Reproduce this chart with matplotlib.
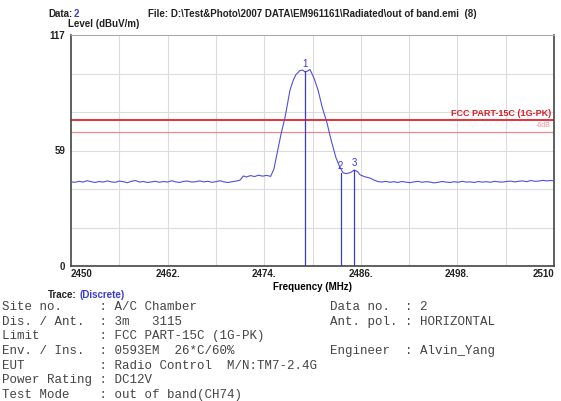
import matplotlib
matplotlib.use("Agg")
import matplotlib.pyplot as plt

# Trace (MHz, dBuV/m)
freq = [2450.0, 2450.5, 2451.0, 2451.5, 2452.0, 2452.5, 2453.0, 2453.5, 2454.0, 2454.5,
        2455.0, 2455.5, 2456.0, 2456.5, 2457.0, 2457.5, 2458.0, 2458.5, 2459.0, 2459.5,
        2460.0, 2460.5, 2461.0, 2461.5, 2462.0, 2462.5, 2463.0, 2463.5, 2464.0, 2464.5,
        2465.0, 2465.5, 2466.0, 2466.5, 2467.0, 2467.5, 2468.0, 2468.5, 2469.0, 2469.5,
        2470.0, 2470.5, 2471.0, 2471.4, 2471.8, 2472.3, 2472.8, 2473.3, 2473.8, 2474.3,
        2474.8, 2475.2, 2475.7, 2476.1, 2476.6, 2477.2, 2477.6, 2477.95, 2478.45, 2478.8,
        2479.1, 2479.4, 2479.7, 2480.2, 2480.7, 2481.2, 2481.8, 2482.3, 2482.9, 2483.4,
        2483.8, 2484.2, 2484.7, 2485.2, 2485.6, 2485.9, 2486.5, 2487.1, 2487.6, 2488.1,
        2488.6, 2489.1, 2489.6, 2490.1, 2490.6, 2491.1, 2491.6, 2492.1, 2492.6, 2493.1,
        2493.6, 2494.1, 2494.6, 2495.1, 2495.6, 2496.1, 2496.6, 2497.1, 2497.6, 2498.1,
        2498.6, 2499.1, 2499.6, 2500.1, 2500.6, 2501.1, 2501.6, 2502.1, 2502.6, 2503.1,
        2503.6, 2504.1, 2504.6, 2505.1, 2505.6, 2506.1, 2506.6, 2507.1, 2507.6, 2508.1,
        2508.6, 2509.1, 2509.6, 2510.0]
level = [42.6, 42.4, 42.9, 42.5, 43.2, 42.7, 42.3, 42.8, 42.5, 43.1,
         42.6, 42.4, 43.0, 42.7, 42.2, 42.9, 43.3, 42.5, 42.8, 42.3,
         42.6, 42.9, 42.4, 42.8, 42.5, 43.2, 42.6, 42.3, 42.9, 43.0,
         42.5, 42.7, 43.1, 42.6, 42.9, 42.4, 42.7, 43.2, 42.6, 42.3,
         42.7, 43.0, 43.5, 45.6, 45.1, 45.8, 45.3, 46.0, 45.5, 45.9,
         45.4, 49.0, 59.0, 67.0, 75.5, 89.0, 94.0, 97.0, 99.0, 99.2,
         98.2, 98.8, 99.5, 95.0, 89.0, 80.5, 72.5, 64.0, 55.0, 50.0,
         47.2, 46.8, 47.3, 48.6, 47.8, 46.2, 45.2, 44.6, 43.6, 42.8,
         42.5, 42.9, 42.4, 42.7, 42.3, 42.8, 42.5, 42.2, 42.6, 42.9,
         42.4, 42.7, 42.5, 42.1, 42.4, 42.8, 42.5, 42.3, 42.7, 42.4,
         42.9, 42.5, 42.6, 42.3, 42.8, 42.5, 42.7, 42.4, 42.9, 42.6,
         42.5, 42.8, 43.0, 42.6, 42.9, 43.1, 42.7, 43.3, 42.9, 43.0,
         43.4, 43.1, 43.3, 43.2]

marker_freq = [2479.1, 2483.5, 2485.2]
marker_level = [98.8, 47.0, 48.6]
marker_names = ["1", "2", "3"]

limit_level = 74.0
margin_level = 68.0
xticks = [2450, 2462, 2474, 2486, 2498, 2510]
xticklabels = ["2450", "2462.", "2474.", "2486.", "2498.", "2510"]
yticks = [0, 59, 117]

info_left = [("Site no.", "A/C Chamber"),
             ("Dis. / Ant.", "3m   3115"),
             ("Limit", "FCC PART-15C (1G-PK)"),
             ("Env. / Ins.", "0593EM  26*C/60%"),
             ("EUT", "Radio Control  M/N:TM7-2.4G"),
             ("Power Rating", "DC12V"),
             ("Test Mode", "out of band(CH74)")]
info_right = {0: ("Data no.", "2"), 1: ("Ant. pol.", "HORIZONTAL"), 3: ("Engineer", "Alvin_Yang")}

W, H = 561, 401
fig = plt.figure(figsize=(W / 100, H / 100), dpi=100, facecolor="white")


def px(x, y):
    return x / W, 1 - y / H


SANS = "Liberation Sans"
BLUE = "#3a3ad8"
FS = 7

ax = fig.add_axes([71 / W, 1 - 266 / H, (554 - 71) / W, (266 - 35) / H])
ax.set_xlim(2450, 2510)
ax.set_ylim(0, 117)

# grid: 10 vertical, 6 horizontal divisions
for i in range(1, 10):
    ax.axvline(2450 + 6 * i, color="#dcdcdc", lw=0.8, zorder=0)
for i in range(1, 6):
    ax.axhline(117 / 6 * i, color="#dcdcdc", lw=0.8, zorder=0)

ax.set_xticks(xticks)
ax.set_xticklabels(xticklabels)
ax.set_yticks(yticks)
ax.set_yticklabels([str(v) for v in yticks])
ax.tick_params(length=0, labelsize=FS)
ax.tick_params(axis="y", pad=4)
ax.tick_params(axis="x", pad=2)
for lab in ax.get_xticklabels() + ax.get_yticklabels():
    lab.set_fontweight("bold")
    lab.set_family(SANS)
    lab.set_color("#222222")
xl = ax.get_xticklabels()
xl[0].set_ha("left")
xl[-1].set_ha("right")

for s in ["left", "bottom", "right"]:
    ax.spines[s].set_color("#444444")
    ax.spines[s].set_linewidth(1.2)
ax.spines["top"].set_color("#aaaaaa")
ax.spines["top"].set_linewidth(0.8)

# limit lines
ax.axhline(limit_level, color="#e8303a", lw=1.4, zorder=2)
ax.axhline(margin_level, color="#f08890", lw=0.9, zorder=2)
ax.text(2509.6, limit_level + 1.2, "FCC PART-15C (1G-PK)", color="#d81e28", fontsize=6.5,
        fontweight="bold", family=SANS, ha="right", va="bottom")
ax.text(2509.6, limit_level - 1.2, "-6dB", color="#f09090", fontsize=5, ha="right", va="top",
        family=SANS)

# trace
ax.plot(freq, level, color="#5050dc", lw=0.8, zorder=3)

# markers
for f, l, n in zip(marker_freq, marker_level, marker_names):
    ax.plot([f, f], [0, l], color=BLUE, lw=0.9, zorder=3)
    ax.text(f, l + 1.0, n, color=BLUE, fontsize=7, ha="center", va="bottom", family=SANS)

ax.set_xlabel("Frequency (MHz)", fontsize=FS, fontweight="bold", family=SANS, labelpad=2)

# header texts
fig.text(*px(48, 14), "Data:", fontsize=FS, fontweight="bold", family=SANS,
         va="center", color="#222222")
fig.text(*px(74, 14), "2", fontsize=FS, fontweight="bold", color=BLUE,
         family=SANS, va="center")
fig.text(*px(148, 14), "File: D:\\Test&Photo\\2007 DATA\\EM961161\\Radiated\\out of band.emi  (8)",
         fontsize=FS, fontweight="bold", family=SANS, va="center", color="#222222")
fig.text(*px(68, 24), "Level (dBuV/m)", fontsize=FS, fontweight="bold",
         family=SANS, va="center", color="#222222")
fig.text(*px(48, 295), "Trace:", fontsize=FS, fontweight="bold", family=SANS,
         va="center", color="#222222")
fig.text(*px(80, 295), "(Discrete)", fontsize=FS, fontweight="bold", color=BLUE,
         family=SANS, va="center")

# info block
y0 = 307
dy = 14.7
for i, (k, v) in enumerate(info_left):
    fig.text(*px(2, y0 + i * dy), f"{k:<13}: {v}", fontsize=9, family="Liberation Mono",
             va="center", color="#444444")
    if i in info_right:
        k2, v2 = info_right[i]
        fig.text(*px(330, y0 + i * dy), f"{k2:<10}: {v2}", fontsize=9,
                 family="Liberation Mono", va="center", color="#444444")

fig.savefig("out.png", dpi=100, facecolor="white")
